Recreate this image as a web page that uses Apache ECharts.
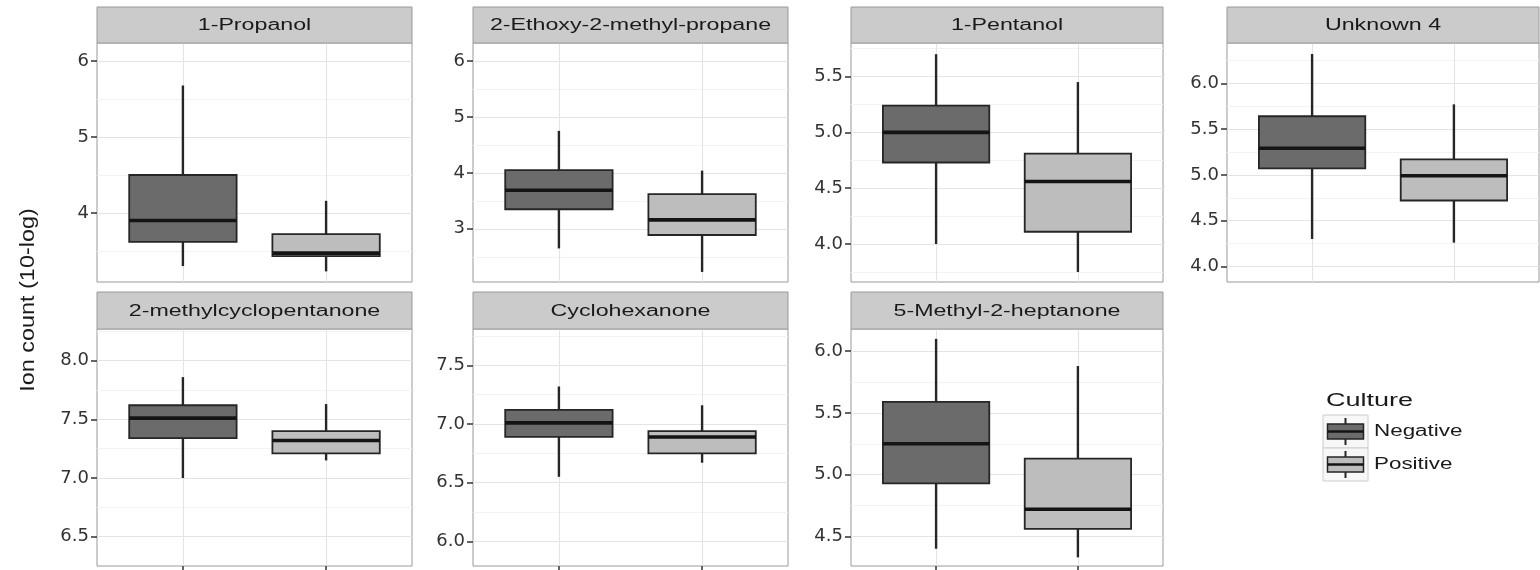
<!DOCTYPE html>
<html>
<head>
<meta charset="utf-8">
<script src="https://cdn.jsdelivr.net/npm/echarts@6/dist/echarts.min.js"></script>
<style>
  html, body { margin: 0; padding: 0; background: #ffffff; }
  #chart { width: 1540px; height: 570px; }
</style>
</head>
<body>
<div id="chart"></div>
<script>
// Volatile compounds, ion count (10-log) by culture result
const compounds = [
  '1-Propanol', '2-Ethoxy-2-methyl-propane', '1-Pentanol', 'Unknown 4',
  '2-methylcyclopentanone', 'Cyclohexanone', '5-Methyl-2-heptanone'
];
const cultures = ['Negative', 'Positive'];

// Box statistics per compound: [lower whisker, Q1, median, Q3, upper whisker]
const negativeStats = [
  [3.30, 3.62, 3.90, 4.50, 5.68],
  [2.65, 3.35, 3.69, 4.05, 4.75],
  [4.00, 4.73, 5.00, 5.24, 5.70],
  [4.30, 5.07, 5.29, 5.64, 6.32],
  [7.00, 7.34, 7.51, 7.62, 7.86],
  [6.55, 6.89, 7.01, 7.12, 7.32],
  [4.40, 4.93, 5.25, 5.59, 6.10]
];
const positiveStats = [
  [3.23, 3.43, 3.47, 3.72, 4.16],
  [2.23, 2.89, 3.16, 3.62, 4.04],
  [3.75, 4.11, 4.56, 4.81, 5.45],
  [4.26, 4.72, 4.99, 5.17, 5.77],
  [7.15, 7.21, 7.32, 7.40, 7.63],
  [6.67, 6.75, 6.89, 6.94, 7.16],
  [4.33, 4.56, 4.72, 5.13, 5.88]
];

// Per-panel y ranges and tick labels (free y scales)
const yMin = [3.09, 2.05, 3.66, 3.83, 6.25, 5.79, 4.26];
const yMax = [6.24, 6.32, 5.80, 6.44, 8.27, 7.81, 6.18];
const yTicks = [
  [4, 5, 6],
  [3, 4, 5, 6],
  [4.0, 4.5, 5.0, 5.5],
  [4.0, 4.5, 5.0, 5.5, 6.0],
  [6.5, 7.0, 7.5, 8.0],
  [6.0, 6.5, 7.0, 7.5],
  [4.5, 5.0, 5.5, 6.0]
];
const tickDecimals = [0, 0, 1, 1, 1, 1, 1];
const xPositions = [1, 2];

const yTitle = 'Ion count (10-log)';
const legendTitle = 'Culture';

// ---- layout ----
const colLeft = [97, 473, 851, 1227];
const colWidth = [315, 315, 312, 312];
const stripTop = [7, 292];
const plotTop = [43, 329];
const plotHeight = [239, 237];

const fills = { Negative: '#6b6b6b', Positive: '#bdbdbd' };
const lineDark = '#262626';
const textFont = 'Liberation Sans';

function panelPos(i) {
  const row = i < 4 ? 0 : 1;
  const col = i < 4 ? i : i - 4;
  return { row, col, left: colLeft[col], width: colWidth[col] };
}

function minorValues(ticks, lo, hi) {
  const step = ticks[1] - ticks[0];
  const out = [];
  for (let v = ticks[0] - step / 2; v <= hi + 1e-9; v += step) {
    if (v > lo + 1e-9) out.push(+v.toFixed(4));
  }
  return out;
}

function renderBox(params, api) {
  const x = api.value(0);
  const pLow = api.coord([x, api.value(1)]);
  const pQ1 = api.coord([x, api.value(2)]);
  const pMed = api.coord([x, api.value(3)]);
  const pQ3 = api.coord([x, api.value(4)]);
  const pHigh = api.coord([x, api.value(5)]);
  const half = api.size([0.75, 0])[0] / 2;
  const cx = pMed[0];
  const fill = fills[params.seriesName];
  return {
    type: 'group',
    children: [
      { type: 'line', shape: { x1: cx, y1: pLow[1], x2: cx, y2: pQ1[1] },
        style: { stroke: lineDark, lineWidth: 2.4 } },
      { type: 'line', shape: { x1: cx, y1: pQ3[1], x2: cx, y2: pHigh[1] },
        style: { stroke: lineDark, lineWidth: 2.4 } },
      { type: 'rect', shape: { x: cx - half, y: pQ3[1], width: half * 2, height: pQ1[1] - pQ3[1] },
        style: { fill: fill, stroke: lineDark, lineWidth: 1.8 } },
      { type: 'line', shape: { x1: cx - half, y1: pMed[1], x2: cx + half, y2: pMed[1] },
        style: { stroke: '#141414', lineWidth: 3.6 } }
    ]
  };
}

const grids = [], xAxes = [], yAxes = [], series = [], graphics = [];

compounds.forEach((name, i) => {
  const p = panelPos(i);
  grids.push({
    left: p.left, top: plotTop[p.row], width: p.width, height: plotHeight[p.row],
    show: true, backgroundColor: '#ffffff', borderColor: '#9a9a9a', borderWidth: 1
  });
  xAxes.push({
    gridIndex: i, type: 'value', min: 0.4, max: 2.6,
    axisLine: { show: false },
    axisLabel: { show: false },
    axisTick: { show: p.row === 1, length: 6, lineStyle: { color: '#333333', width: 1.5 }, customValues: xPositions },
    splitLine: { show: true, lineStyle: { color: '#e4e4e4', width: 1 } }
  });
  const dec = tickDecimals[i];
  yAxes.push({
    gridIndex: i, type: 'value', min: yMin[i], max: yMax[i], position: 'left',
    axisLine: { show: false },
    axisTick: { show: true, length: 6, lineStyle: { color: '#333333', width: 1.5 }, customValues: yTicks[i] },
    axisLabel: {
      customValues: yTicks[i], formatter: v => Number(v).toFixed(dec),
      color: '#333333', fontFamily: 'DejaVu Sans', fontSize: 18, margin: 8
    },
    splitLine: { show: true, lineStyle: { color: '#e4e4e4', width: 1 } }
  });
  yAxes.push({
    gridIndex: i, type: 'value', min: yMin[i], max: yMax[i], position: 'left',
    axisLine: { show: false },
    axisTick: { show: false, customValues: minorValues(yTicks[i], yMin[i], yMax[i]) },
    axisLabel: { show: false },
    splitLine: { show: true, lineStyle: { color: '#f3f3f3', width: 1 } }
  });
  [negativeStats, positiveStats].forEach((stats, k) => {
    series.push({
      type: 'custom', name: cultures[k],
      xAxisIndex: i, yAxisIndex: 2 * i,
      renderItem: renderBox,
      encode: { x: 0, y: [1, 2, 3, 4, 5] },
      data: [[xPositions[k]].concat(stats[i])],
      silent: true, animation: false
    });
  });
  // facet strip
  graphics.push({
    type: 'rect', z: 10,
    shape: { x: p.left, y: stripTop[p.row], width: p.width, height: plotTop[p.row] - stripTop[p.row] },
    style: { fill: '#cbcbcb', stroke: '#9a9a9a', lineWidth: 1 }
  });
  graphics.push({
    type: 'text', z: 11,
    x: p.left + p.width / 2, y: (stripTop[p.row] + plotTop[p.row]) / 2 + 1,
    scaleX: 1.45,
    style: {
      text: name, fontFamily: textFont, fontSize: 16, fill: '#1a1a1a',
      align: 'center', verticalAlign: 'middle', textAlign: 'center', textVerticalAlign: 'middle'
    }
  });
});

// y-axis title
graphics.push({
  type: 'text', z: 11, x: 28, y: 300, rotation: Math.PI / 2, scaleX: 1.17,
  style: {
    text: yTitle, fontFamily: textFont, fontSize: 20, fill: '#1a1a1a',
    align: 'center', verticalAlign: 'middle', textAlign: 'center', textVerticalAlign: 'middle'
  }
});

// legend
graphics.push({
  type: 'text', z: 11, x: 1326, y: 401, scaleX: 1.5,
  style: {
    text: legendTitle, fontFamily: textFont, fontSize: 18, fill: '#1a1a1a',
    align: 'left', verticalAlign: 'middle', textAlign: 'left', textVerticalAlign: 'middle'
  }
});
const keyTop = [415, 448];
cultures.forEach((c, k) => {
  const t = keyTop[k];
  graphics.push({
    type: 'rect', z: 10, shape: { x: 1323, y: t, width: 45, height: 33 },
    style: { fill: '#f7f7f7', stroke: '#cccccc', lineWidth: 1 }
  });
  graphics.push({ type: 'line', z: 11, shape: { x1: 1345.5, y1: t + 3, x2: 1345.5, y2: t + 30 },
    style: { stroke: lineDark, lineWidth: 2 } });
  graphics.push({ type: 'rect', z: 12, shape: { x: 1327.5, y: t + 9, width: 36, height: 15 },
    style: { fill: fills[c], stroke: lineDark, lineWidth: 1.5 } });
  graphics.push({ type: 'line', z: 13, shape: { x1: 1327.5, y1: t + 16.5, x2: 1363.5, y2: t + 16.5 },
    style: { stroke: '#141414', lineWidth: 2.5 } });
  graphics.push({
    type: 'text', z: 11, x: 1374, y: t + 17, scaleX: 1.4,
    style: {
      text: c, fontFamily: textFont, fontSize: 16, fill: '#1a1a1a',
      align: 'left', verticalAlign: 'middle', textAlign: 'left', textVerticalAlign: 'middle'
    }
  });
});

const chart = echarts.init(document.getElementById('chart'), null, { renderer: 'canvas' });
chart.setOption({
  backgroundColor: '#ffffff',
  animation: false,
  grid: grids,
  xAxis: xAxes,
  yAxis: yAxes,
  series: series,
  graphic: { elements: graphics }
});
</script>
</body>
</html>
